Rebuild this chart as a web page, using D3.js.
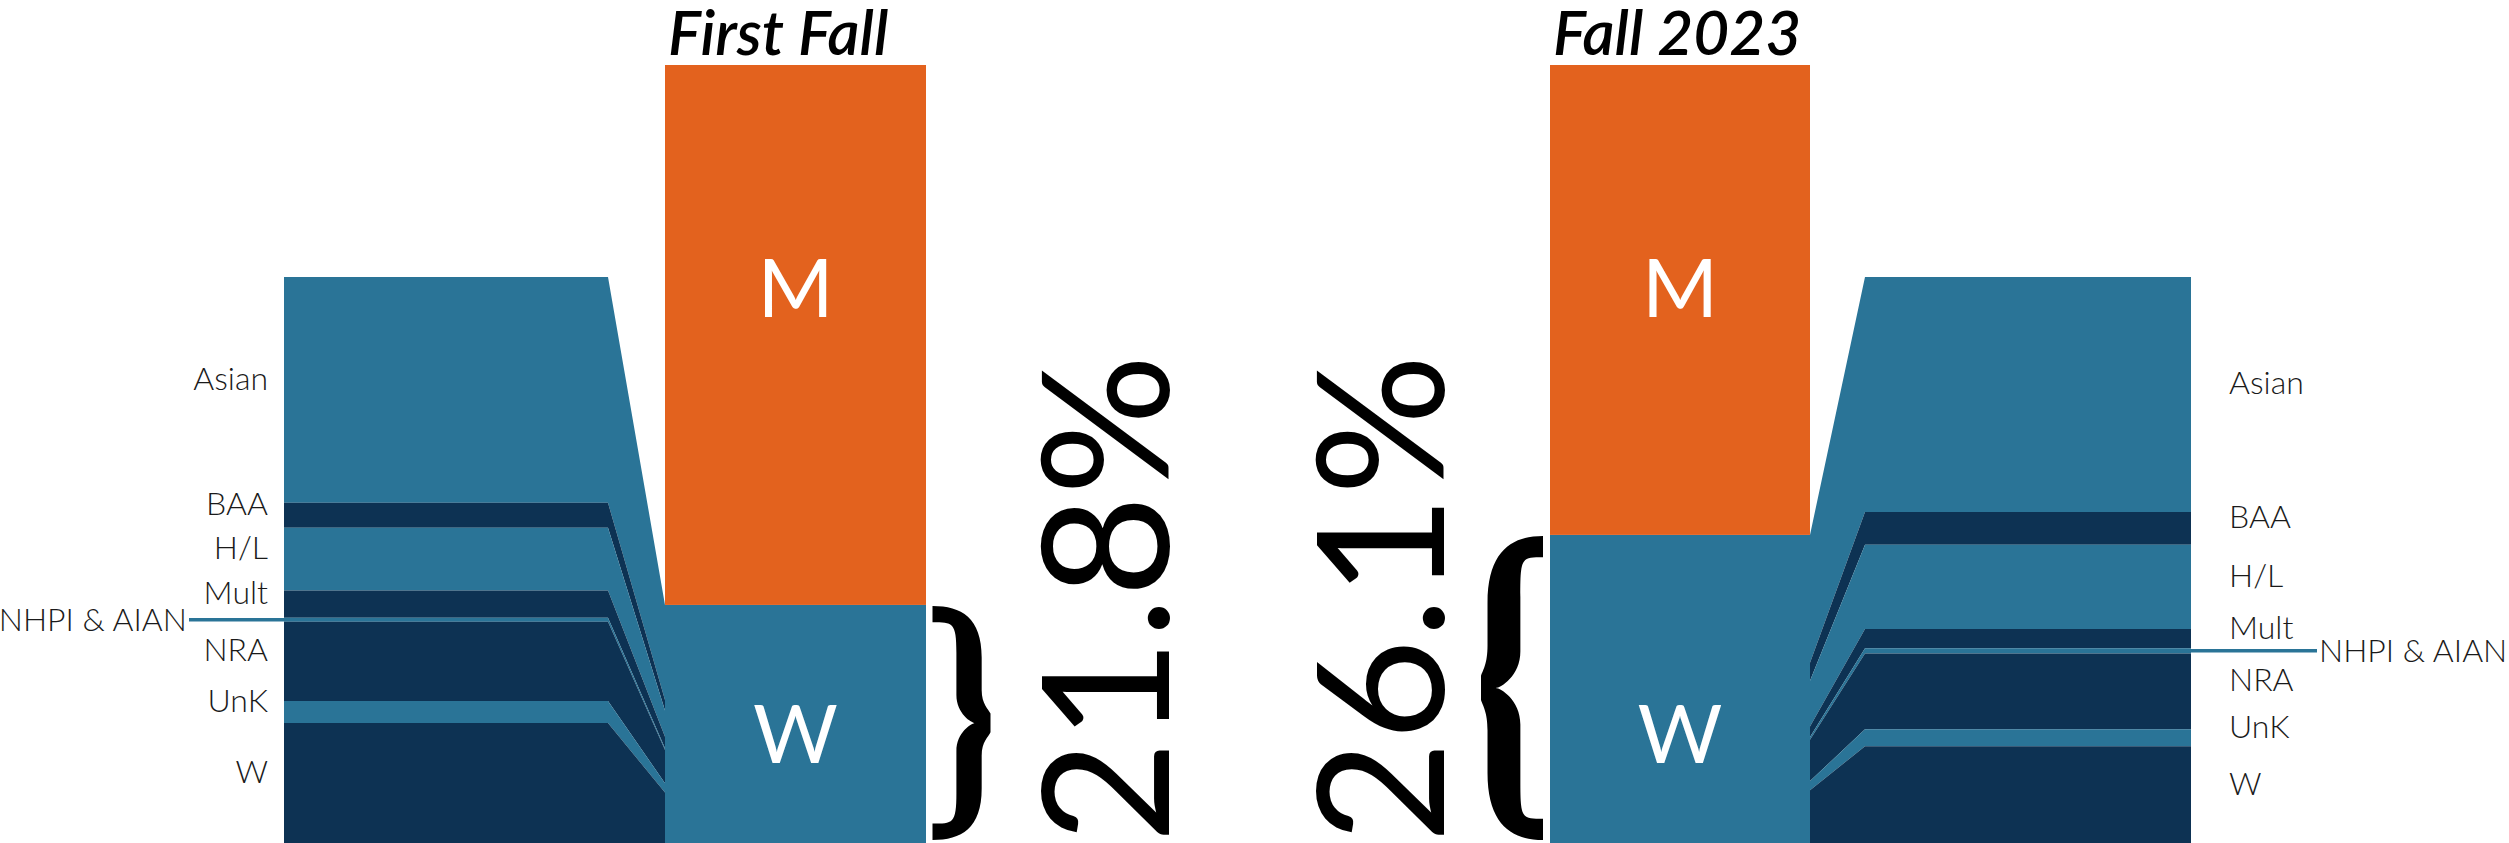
<!DOCTYPE html>
<html>
<head>
<meta charset="utf-8">
<script src="https://cdn.jsdelivr.net/npm/d3@7"></script>
<style>
  html, body { margin: 0; padding: 0; background: #fff; }
  .lbl { font-family: "Lato Light", Lato, "Open Sans", sans-serif; font-weight: 300; font-size: 32px; fill: #1a1a1a; }
  .title { font-family: Lato, sans-serif; font-style: italic; font-weight: 600; font-size: 62px; fill: #000; }
  .bar-lbl { font-family: Lato, sans-serif; font-size: 82px; fill: #fff; text-anchor: middle; }
  .pct { font-family: Lato, sans-serif; font-size: 176px; fill: #000; }
</style>
</head>
<body>
<div class="viz"></div>
<script>
var width = 2509,
    height = 843,
    terms = [ "First Fall", "Fall 2023" ],
    menBar = [ 69.4, 60.4 ],
    womenBar = [ 30.6, 39.6 ],
    womenPct = [ "21.8%", "26.1%" ],
    groups = [ "Asian", "BAA", "H/L", "Mult", "NHPI & AIAN", "NRA", "UnK", "W" ],
    firstFall = [ 39.9, 4.4, 11.1, 4.8, 0.7, 14.0, 3.9, 21.2 ],
    fall2023 = [ 41.5, 5.8, 14.9, 3.4, 0.9, 13.4, 3.0, 17.1 ],
    orange = "#e3621e",
    light = "#2a7497",
    dark = "#0d3253";

// layout of the two halves (block of groups, then the M/W bar)
var panels = [
    { data: firstFall, outer: 284, inner: 608, bar: [ 665, 926 ], side: -1,
      lblX: 268, nhpiX: 187, pctX: 1169, brace: 932.5, braceW: 58 },
    { data: fall2023, outer: 2191, inner: 1865, bar: [ 1550, 1810 ], side: 1,
      lblX: 2229, nhpiX: 2319, pctX: 1444, brace: 1543, braceW: 62 }
];

var barY = d3.scaleLinear().domain( [ 0, 100 ] ).range( [ height, 65 ] ),
    blockY = d3.scaleLinear().domain( [ 0, 100 ] ).range( [ 277, height ] ),
    color = d3.scaleOrdinal( groups, [ light, dark, light, dark, light, dark, light, dark ] ),
    line = d3.line();

var svg = d3.select( ".viz" )
    .append( "svg" )
    .attr( "width", width )
    .attr( "height", height );

// filled curly brace, open side at x = 0, point at x = w
function bracePath( w, h ) {
    var t = 0.054 * h, s = Math.min( 0.63 * w, w - t - 4 ), e = 0.07 * h;
    var p = d3.path();
    p.moveTo( 0, 0 );
    p.bezierCurveTo( 0.5 * w, 0, s + t, 0.05 * h, s + t, 0.22 * h );
    p.lineTo( s + t, 0.36 * h );
    p.bezierCurveTo( s + t, 0.42 * h, w - 2, 0.44 * h, w, 0.46 * h );
    p.lineTo( w, 0.54 * h );
    p.bezierCurveTo( w - 2, 0.56 * h, s + t, 0.58 * h, s + t, 0.64 * h );
    p.lineTo( s + t, 0.78 * h );
    p.bezierCurveTo( s + t, 0.95 * h, 0.5 * w, h, 0, h );
    p.lineTo( 0, h - e );
    p.bezierCurveTo( 0.35 * w, h - e, s - t, 0.93 * h, s - t, 0.8 * h );
    p.lineTo( s - t, 0.62 * h );
    p.bezierCurveTo( s - t, 0.54 * h, s + 0.2 * t, 0.5 * h, s + 0.5 * t, 0.5 * h );
    p.bezierCurveTo( s + 0.2 * t, 0.5 * h, s - t, 0.46 * h, s - t, 0.38 * h );
    p.lineTo( s - t, 0.2 * h );
    p.bezierCurveTo( s - t, 0.07 * h, 0.35 * w, e, 0, e );
    p.closePath();
    return p.toString();
}

panels.forEach( function( pn, i ) {
    var g = svg.append( "g" );
    var ends = d3.cumsum( pn.data ),
        rows = groups.map( function( d, j ) {
            return { name: d, v0: j ? ends[ j - 1 ] : 0, v1: ends[ j ] };
        } );
    var barEdge = pn.side < 0 ? pn.bar[ 0 ] : pn.bar[ 1 ];
    // the women part of the bar takes the whole breakdown, squeezed
    var linkY = d3.scaleLinear().domain( [ 0, 100 ] ).range( [ barY( womenBar[ i ] ), height ] );

    g.selectAll( ".band" )
        .data( rows )
        .enter()
        .append( "path" )
        .attr( "class", "band" )
        .attr( "fill", function( d ) { return color( d.name ); } )
        .attr( "d", function( d ) {
            return line( [
                [ pn.outer, blockY( d.v0 ) ],
                [ pn.inner, blockY( d.v0 ) ],
                [ barEdge, linkY( d.v0 ) ],
                [ barEdge, linkY( d.v1 ) ],
                [ pn.inner, blockY( d.v1 ) ],
                [ pn.outer, blockY( d.v1 ) ]
            ] ) + "Z";
        } );

    // bar: women at the bottom, men stacked on top
    g.append( "rect" )
        .attr( "x", pn.bar[ 0 ] )
        .attr( "width", pn.bar[ 1 ] - pn.bar[ 0 ] )
        .attr( "y", barY( womenBar[ i ] ) )
        .attr( "height", barY( 0 ) - barY( womenBar[ i ] ) )
        .attr( "fill", light );
    g.append( "rect" )
        .attr( "x", pn.bar[ 0 ] )
        .attr( "width", pn.bar[ 1 ] - pn.bar[ 0 ] )
        .attr( "y", barY( womenBar[ i ] + menBar[ i ] ) )
        .attr( "height", barY( womenBar[ i ] ) - barY( womenBar[ i ] + menBar[ i ] ) )
        .attr( "fill", orange );

    var cx = ( pn.bar[ 0 ] + pn.bar[ 1 ] ) / 2;
    g.append( "text" ).attr( "class", "bar-lbl" ).attr( "x", cx ).attr( "y", 317 ).text( "M" );
    g.append( "text" ).attr( "class", "bar-lbl" ).attr( "x", cx ).attr( "y", 763 ).text( "W" );

    g.append( "text" )
        .attr( "class", "title" )
        .attr( "x", pn.bar[ 0 ] + 3 )
        .attr( "y", 55 )
        .text( terms[ i ] );

    // group labels, baseline on the middle of each band
    g.selectAll( ".lbl" )
        .data( rows )
        .enter()
        .append( "text" )
        .attr( "class", "lbl" )
        .attr( "text-anchor", pn.side < 0 ? "end" : "start" )
        .attr( "x", function( d ) { return d.name === "NHPI & AIAN" ? pn.nhpiX : pn.lblX; } )
        .attr( "y", function( d ) { return blockY( ( d.v0 + d.v1 ) / 2 ); } )
        .attr( "dy", function( d ) { return d.name === "NHPI & AIAN" ? "0.36em" : 0; } )
        .text( function( d ) { return d.name; } );

    var nh = rows[ 4 ];
    g.append( "line" )
        .attr( "x1", pn.nhpiX - pn.side * 2 )
        .attr( "x2", pn.outer )
        .attr( "y1", blockY( ( nh.v0 + nh.v1 ) / 2 ) )
        .attr( "y2", blockY( ( nh.v0 + nh.v1 ) / 2 ) )
        .attr( "stroke", light )
        .attr( "stroke-width", 3.5 );

    // brace round the women part, and the share of women
    var b0 = barY( womenBar[ i ] ) + 1, b1 = height - 3;
    g.append( "path" )
        .attr( "transform", "translate(" + pn.brace + "," + b0 + ") scale(" + ( -pn.side ) + ",1)" )
        .attr( "d", bracePath( pn.braceW, b1 - b0 ) )
        .attr( "fill", "#000" );

    g.append( "text" )
        .attr( "class", "pct" )
        .attr( "transform", "translate(" + pn.pctX + "," + height + ") rotate(-90)" )
        .text( womenPct[ i ] );
} );
</script>
</body>
</html>
